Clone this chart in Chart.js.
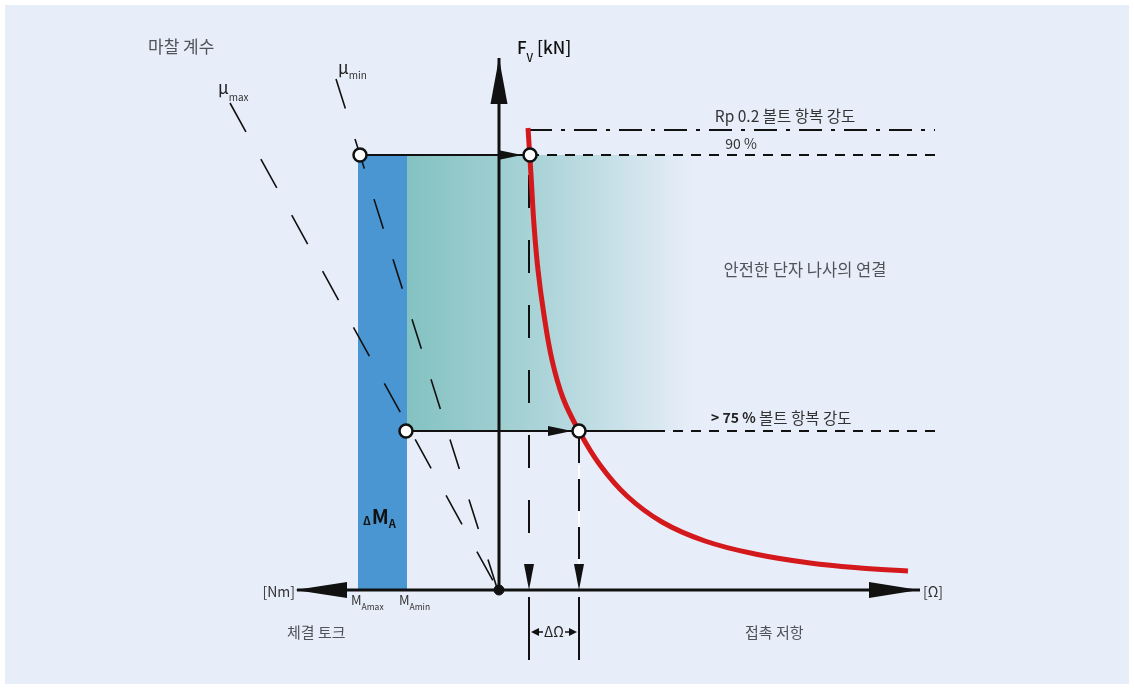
<!DOCTYPE html>
<html>
<head>
<meta charset="utf-8">
<script src="https://cdn.jsdelivr.net/npm/chart.js@4"></script>
<style>
  html, body { margin: 0; padding: 0; background: #fff; }
  #wrap { width: 1134px; height: 689px; }
</style>
</head>
<body>
<div id="wrap"><canvas id="canvas" width="1134" height="689"></canvas></div>
<script>
// diagram units: origin where torque axis meets force axis, y upwards
var curveX = [29, 32, 35, 39, 45, 53, 64, 80, 101, 128, 163, 206, 256, 311, 361, 409];
var curveY = [462, 415, 365, 320, 275, 230, 192, 159, 125, 94, 68, 49, 36, 27, 22, 19];

var yieldLevel = 460;      // Rp 0.2
var level90 = 435;         // 90 %
var level75 = 159;         // > 75 %
var lineEnd = 436;         // right end of the level lines

var torqueMax = -141;      // M_Amax
var torqueMin = -92;       // M_Amin
var safeEnd = 196;         // right end of the shaded zone

var omega1 = 30;           // contact resistance at 90 %
var omega2 = 80;           // contact resistance at 75 %

var muMaxLine = [[-269, 487], [-2, 2]];
var muMinLine = [[-163, 511], [-2, 2]];

var axisX = [-202, 421];
var axisY = [0, 532];

var openPoints = [[torqueMax + 2, level90], [omega1 + 1, level90], [torqueMin - 1, level75], [omega2, level75]];

function pts(xs, ys) {
	var out = [];
	for (var i = 0; i < xs.length; i++) out.push({x: xs[i], y: ys[i]});
	return out;
}
function seg(a) {
	return a.map(function(p){ return {x: p[0], y: p[1]}; });
}

var black = '#111';

var tealFill = function(ctx) {
	var chart = ctx.chart;
	if (!chart.chartArea) return 'rgba(0,0,0,0)';
	var x0 = chart.scales.x.getPixelForValue(torqueMin);
	var x1 = chart.scales.x.getPixelForValue(safeEnd);
	var g = chart.ctx.createLinearGradient(x0, 0, x1, 0);
	g.addColorStop(0, '#84c2c2');
	g.addColorStop(0.45, '#a9d3d7');
	g.addColorStop(1, '#e8eef9');
	return g;
};

function lineSet(data, color, width, dash, order) {
	return {
		data: data, showLine: true, borderColor: color, borderWidth: width,
		borderDash: dash || [], pointRadius: 0, fill: false, order: order, tension: 0
	};
}

var datasets = [
	// open circles
	{ data: seg(openPoints), showLine: false, pointRadius: 6.5, pointBackgroundColor: '#fff',
	  pointBorderColor: black, pointBorderWidth: 2.5, order: 1 },
	// origin dot
	{ data: [{x: 0, y: 0}], showLine: false, pointRadius: 5, pointBackgroundColor: black,
	  pointBorderColor: black, order: 1 },
	// red curve
	{ data: pts(curveX, curveY), showLine: true, borderColor: '#d4191d', borderWidth: 5,
	  pointRadius: 0, tension: 0.4, fill: false, order: 2, borderCapStyle: 'butt' },
	// axes
	lineSet([{x: axisX[0], y: 0}, {x: axisX[1], y: 0}], black, 3, [], 3),
	lineSet([{x: 0, y: axisY[0]}, {x: 0, y: axisY[1]}], black, 3, [], 3),
	// level lines
	lineSet([{x: omega1, y: yieldLevel}, {x: lineEnd, y: yieldLevel}], black, 2, [23, 9, 4, 9], 4),
	lineSet([{x: omega1, y: level90}, {x: lineEnd, y: level90}], black, 2, [10, 8], 4),
	lineSet([{x: torqueMax, y: level90}, {x: omega1, y: level90}], black, 2, [], 4),
	lineSet([{x: torqueMin, y: level75}, {x: 156, y: level75}], black, 2, [], 4),
	lineSet([{x: 156, y: level75}, {x: lineEnd, y: level75}], black, 2, [10, 8], 4),
	// vertical dashed drops
	lineSet([{x: omega1, y: 415}, {x: omega1, y: 5}], black, 2, [33, 32], 4),
	lineSet([{x: omega2, y: 125}, {x: omega2, y: 5}], '#fff', 2, [], 5),
	lineSet([{x: omega2, y: level75}, {x: omega2, y: 5}], black, 2, [32, 16], 4),
	// below axis markers
	lineSet([{x: omega1, y: -7}, {x: omega1, y: -70}], black, 2, [], 4),
	lineSet([{x: omega2, y: -7}, {x: omega2, y: -70}], black, 2, [], 4),
	// friction coefficient lines
	lineSet(seg(muMaxLine), black, 1.6, [33, 31], 4),
	lineSet(seg(muMinLine), black, 1.6, [31, 32], 4),
	// shaded zones
	{ data: [{x: torqueMin, y: level90}, {x: safeEnd, y: level90}], showLine: true, borderWidth: 0,
	  borderColor: 'rgba(0,0,0,0)', pointRadius: 0, fill: {value: level75}, backgroundColor: tealFill, order: 8 },
	{ data: [{x: torqueMax, y: level90}, {x: torqueMin, y: level90}], showLine: true, borderWidth: 0,
	  borderColor: 'rgba(0,0,0,0)', pointRadius: 0, fill: {value: 0}, backgroundColor: '#4a96d2', order: 9 }
];

var panel = {
	id: 'panel',
	beforeDraw: function(chart) {
		var c = chart.ctx;
		c.save();
		c.fillStyle = '#fff';
		c.fillRect(0, 0, chart.width, chart.height);
		c.fillStyle = '#e8eef9';
		c.fillRect(5, 5, chart.width - 10, chart.height - 10);
		c.restore();
	}
};

function arrow(c, tip, dx, dy, len, half) {
	// dx,dy: unit direction the arrow points to
	var bx = tip[0] - dx * len, by = tip[1] - dy * len;
	c.beginPath();
	c.moveTo(tip[0], tip[1]);
	c.lineTo(bx - dy * half, by + dx * half);
	c.lineTo(bx + dy * half, by - dx * half);
	c.closePath();
	c.fill();
}

var notes = {
	id: 'notes',
	afterDatasetsDraw: function(chart) {
		var c = chart.ctx, sx = chart.scales.x, sy = chart.scales.y;
		function P(x, y) { return [sx.getPixelForValue(x), sy.getPixelForValue(y)]; }
		c.save();
		c.fillStyle = black;
		// axis arrowheads
		arrow(c, P(0, 532), 0, -1, 46, 8.5);
		arrow(c, P(axisX[0] - 2, 0), -1, 0, 52, 8);
		arrow(c, P(axisX[1] - 1, 0), 1, 0, 50, 8);
		// arrows on guide lines
		arrow(c, [P(omega1, level90)[0] - 7, P(0, level90)[1]], 1, 0, 24, 5);
		arrow(c, [P(omega2, level75)[0] - 7, P(0, level75)[1]], 1, 0, 24, 5);
		arrow(c, P(omega1, 0), 0, 1, 26, 5);
		arrow(c, P(omega2, 0), 0, 1, 26, 5);
		// delta omega arrows
		var yd = P(0, -42)[1];
		var xa = P(omega1, 0)[0], xb = P(omega2, 0)[0];
		c.lineWidth = 1.5;
		c.strokeStyle = black;
		c.beginPath(); c.moveTo(xa + 8, yd); c.lineTo(xa + 14, yd); c.stroke();
		c.beginPath(); c.moveTo(xb - 8, yd); c.lineTo(xb - 14, yd); c.stroke();
		arrow(c, [xa + 2, yd], -1, 0, 8, 4);
		arrow(c, [xb - 2, yd], 1, 0, 8, 4);

		var KR = '"Noto Sans CJK KR", "Noto Sans", sans-serif';
		function txt(s, x, y, size, color, align, weight) {
			c.font = (weight || 'normal') + ' ' + size + 'px ' + KR;
			c.fillStyle = color;
			c.textAlign = align || 'left';
			c.textBaseline = 'middle';
			c.fillText(s, x, y);
			return c.measureText(s).width;
		}
		var grey = '#505358';
		txt('마찰 계수', 148, 47, 17, grey);
		var w = txt('μ', 218, 88, 17, '#222');
		txt('max', 218 + w, 97, 10, '#333');
		w = txt('μ', 338, 68, 17, '#222');
		txt('min', 338 + w, 75, 10, '#333');

		w = txt('F', 517, 48, 17, '#111', 'left', '500');
		txt('V', 517 + w, 58, 11, '#111', 'left', '500');
		txt('[kN]', 537, 48, 17, '#111', 'left', '500');

		txt('Rp 0.2 볼트 항복 강도', 785, 116, 15.5, '#333', 'center');
		txt('90 %', 741, 144, 14, '#333', 'center');
		txt('안전한 단자 나사의 연결', 805, 270, 16.5, grey, 'center');
		w = txt('> 75 %', 711, 418, 14, '#222', 'left', 'bold');
		txt(' 볼트 항복 강도', 711 + w, 418, 15.5, '#333');

		txt('[Nm]', 295, 592, 14, '#333', 'right');
		w = txt('M', 351, 600, 13, '#333');
		txt('Amax', 351 + w, 607, 8.5, '#333');
		w = txt('M', 399, 600, 13, '#333');
		txt('Amin', 399 + w, 607, 8.5, '#333');
		txt('체결 토크', 287, 632, 15, grey);
		txt('[Ω]', 923, 592, 14, '#333');
		txt('ΔΩ', 554, 632, 14, '#222', 'center');
		txt('접촉 저항', 745, 632, 15, grey);

		w = txt('Δ', 363, 521, 11, '#111', 'left', 'bold');
		var w2 = txt('M', 363 + w + 1, 516, 20, '#111', 'left', 'bold');
		txt('A', 363 + w + 1 + w2, 524, 11, '#111', 'left', 'bold');
		c.restore();
	}
};

var c = document.getElementById('canvas');
var chart = new Chart(c, {
	type: 'scatter',
	data: { datasets: datasets },
	options: {
		responsive: false,
		animation: false,
		devicePixelRatio: 1,
		layout: { padding: 0, autoPadding: false },
		plugins: { legend: { display: false }, tooltip: { enabled: false } },
		scales: {
			x: { type: 'linear', min: -499, max: 635, display: false },
			y: { type: 'linear', min: -99, max: 590, display: false }
		},
		elements: { line: { borderCapStyle: 'butt' } }
	},
	plugins: [panel, notes]
});
</script>
</body>
</html>
